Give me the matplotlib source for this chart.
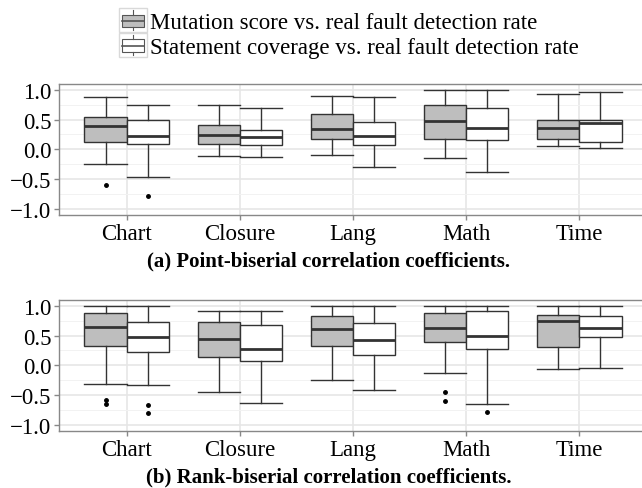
import matplotlib
matplotlib.use("Agg")
import matplotlib.pyplot as plt
from matplotlib.patches import Rectangle, Patch
from matplotlib.lines import Line2D
from matplotlib.legend_handler import HandlerBase
from matplotlib.ticker import MultipleLocator

plt.rcParams['font.family'] = ['Liberation Serif', 'DejaVu Serif']

categories = ["Chart", "Closure", "Lang", "Math", "Time"]
series_labels = ["Mutation score vs. real fault detection rate",
                 "Statement coverage vs. real fault detection rate"]
panel_titles = ["(a) Point-biserial correlation coefficients.",
                "(b) Rank-biserial correlation coefficients."]

# Panel (a): point-biserial
mut_a_whislo = [-0.25, -0.107, -0.09, -0.14, 0.05]
mut_a_q1 = [0.127, 0.094, 0.167, 0.172, 0.167]
mut_a_med = [0.395, 0.244, 0.334, 0.473, 0.35]
mut_a_q3 = [0.545, 0.41, 0.585, 0.736, 0.495]
mut_a_whishi = [0.87, 0.735, 0.90, 1.0, 0.93]
mut_a_fliers = [[-0.60], [], [], [], []]

stmt_a_whislo = [-0.458, -0.134, -0.29, -0.385, 0.017]
stmt_a_q1 = [0.089, 0.067, 0.067, 0.156, 0.122]
stmt_a_med = [0.228, 0.211, 0.228, 0.361, 0.44]
stmt_a_q3 = [0.50, 0.328, 0.457, 0.69, 0.49]
stmt_a_whishi = [0.735, 0.696, 0.875, 1.0, 0.953]
stmt_a_fliers = [[-0.776], [], [], [], []]

# Panel (b): rank-biserial
mut_b_whislo = [-0.317, -0.444, -0.244, -0.122, -0.056]
mut_b_q1 = [0.328, 0.133, 0.322, 0.395, 0.306]
mut_b_med = [0.645, 0.445, 0.611, 0.634, 0.745]
mut_b_q3 = [0.873, 0.722, 0.822, 0.878, 0.85]
mut_b_whishi = [1.0, 0.906, 1.0, 1.0, 1.0]
mut_b_fliers = [[-0.58, -0.64], [], [], [-0.439, -0.6], []]

stmt_b_whislo = [-0.333, -0.627, -0.405, -0.65, -0.05]
stmt_b_q1 = [0.222, 0.067, 0.167, 0.278, 0.472]
stmt_b_med = [0.478, 0.272, 0.417, 0.5, 0.628]
stmt_b_q3 = [0.733, 0.683, 0.706, 0.911, 0.822]
stmt_b_whishi = [1.0, 0.917, 1.0, 1.0, 1.0]
stmt_b_fliers = [[-0.667, -0.794], [], [], [-0.789], []]

MUT_COLOR = "#BEBEBE"
STMT_COLOR = "#FFFFFF"
EDGE = "#333333"
GRID = "#E6E6E6"
BORDER = "#888888"


def make_stats(whislo, q1, med, q3, whishi, fliers):
    return [dict(whislo=a, q1=b, med=c, q3=d, whishi=e, fliers=f)
            for a, b, c, d, e, f in zip(whislo, q1, med, q3, whishi, fliers)]


fig = plt.figure(figsize=(6.42, 4.89), dpi=100)
W, H = 642, 489


def axes_px(left, top, right, bottom):
    return fig.add_axes([left / W, 1 - bottom / H, (right - left) / W, (bottom - top) / H])


ax_a = axes_px(59, 84.7, 647, 216)
ax_b = axes_px(59, 300.7, 647, 432)

panels = [
    (ax_a, make_stats(mut_a_whislo, mut_a_q1, mut_a_med, mut_a_q3, mut_a_whishi, mut_a_fliers),
     make_stats(stmt_a_whislo, stmt_a_q1, stmt_a_med, stmt_a_q3, stmt_a_whishi, stmt_a_fliers)),
    (ax_b, make_stats(mut_b_whislo, mut_b_q1, mut_b_med, mut_b_q3, mut_b_whishi, mut_b_fliers),
     make_stats(stmt_b_whislo, stmt_b_q1, stmt_b_med, stmt_b_q3, stmt_b_whishi, stmt_b_fliers)),
]

bw = 0.375
for ax, mstats, sstats in panels:
    ax.set_facecolor("white")
    for stats, off, col in [(mstats, -bw / 2, MUT_COLOR), (sstats, bw / 2, STMT_COLOR)]:
        pos = [i + off for i in range(len(categories))]
        ax.bxp(stats, positions=pos, widths=bw, capwidths=bw, patch_artist=True,
               manage_ticks=False,
               boxprops=dict(facecolor=col, edgecolor=EDGE, linewidth=1.0),
               medianprops=dict(color=EDGE, linewidth=2.0),
               whiskerprops=dict(color=EDGE, linewidth=1.0),
               capprops=dict(color=EDGE, linewidth=1.0),
               flierprops=dict(marker='o', markerfacecolor='black', markeredgecolor='black',
                               markersize=2.5, linestyle='none'),
               zorder=3)
    ax.set_xlim(-0.6, len(categories) - 0.4)
    ax.set_ylim(-1.1, 1.1)
    ax.set_xticks(range(len(categories)))
    ax.set_xticklabels(categories)
    ax.yaxis.set_major_locator(MultipleLocator(0.5))
    ax.yaxis.set_minor_locator(MultipleLocator(0.25))
    ax.set_yticks([-1.0, -0.5, 0.0, 0.5, 1.0])
    ax.set_yticklabels(["\u22121.0", "\u22120.5", "0.0", "0.5", "1.0"])
    ax.grid(True, which='major', color=GRID, linewidth=1.2, zorder=0)
    ax.grid(True, which='minor', axis='y', color="#F2F2F2", linewidth=0.7, zorder=0)
    ax.set_axisbelow(True)
    for s in ['left', 'bottom', 'top']:
        ax.spines[s].set_color(BORDER)
        ax.spines[s].set_linewidth(1.0)
    ax.spines['right'].set_visible(False)
    ax.tick_params(axis='both', which='major', color=BORDER, length=3.5, width=1.0,
                   labelsize=16.5, labelcolor='black', pad=2)
    ax.tick_params(axis='y', which='minor', length=0)

fig.text(328.5 / W, 1 - 261 / H, panel_titles[0], ha='center', va='center',
         fontsize=15, fontweight='bold')
fig.text(328.5 / W, 1 - 477 / H, panel_titles[1], ha='center', va='center',
         fontsize=15, fontweight='bold')


class BoxKeyHandler(HandlerBase):
    def create_artists(self, legend, orig_handle, xdescent, ydescent, width, height,
                       fontsize, trans):
        x0, y0 = -xdescent, -ydescent
        arts = []
        arts.append(Rectangle((x0, y0), width, height, facecolor='white',
                              edgecolor='#D9D9D9', linewidth=1.0, transform=trans))
        bx0 = x0 + 0.12 * width
        bwid = 0.76 * width
        arts.append(Rectangle((bx0, y0 + 0.22 * height), bwid, 0.52 * height,
                              facecolor=orig_handle.get_facecolor(), edgecolor='#555555',
                              linewidth=0.8, transform=trans))
        arts.append(Line2D([bx0, bx0 + bwid], [y0 + 0.48 * height] * 2, color='#555555',
                           linewidth=1.2, transform=trans))
        xc = x0 + 0.5 * width
        arts.append(Line2D([xc, xc], [y0 + 0.08 * height, y0 + 0.22 * height],
                           color='#555555', linewidth=0.8, transform=trans))
        arts.append(Line2D([xc, xc], [y0 + 0.74 * height, y0 + 0.92 * height],
                           color='#555555', linewidth=0.8, transform=trans))
        return arts


handles = [Patch(facecolor=MUT_COLOR, edgecolor=EDGE), Patch(facecolor=STMT_COLOR, edgecolor=EDGE)]
fs = 16.5
key_px = 28.3
key_em = key_px / (fs * 100 / 72)
leg = fig.legend(handles, series_labels, loc='upper left',
                 bbox_to_anchor=(119 / W, 1 - 9.3 / H), frameon=False,
                 fontsize=fs, handlelength=key_em, handleheight=key_em,
                 handletextpad=0.12, labelspacing=0.0, borderpad=0, borderaxespad=0,
                 handler_map={Patch: BoxKeyHandler()})

fig.savefig("out.png", dpi=100)
